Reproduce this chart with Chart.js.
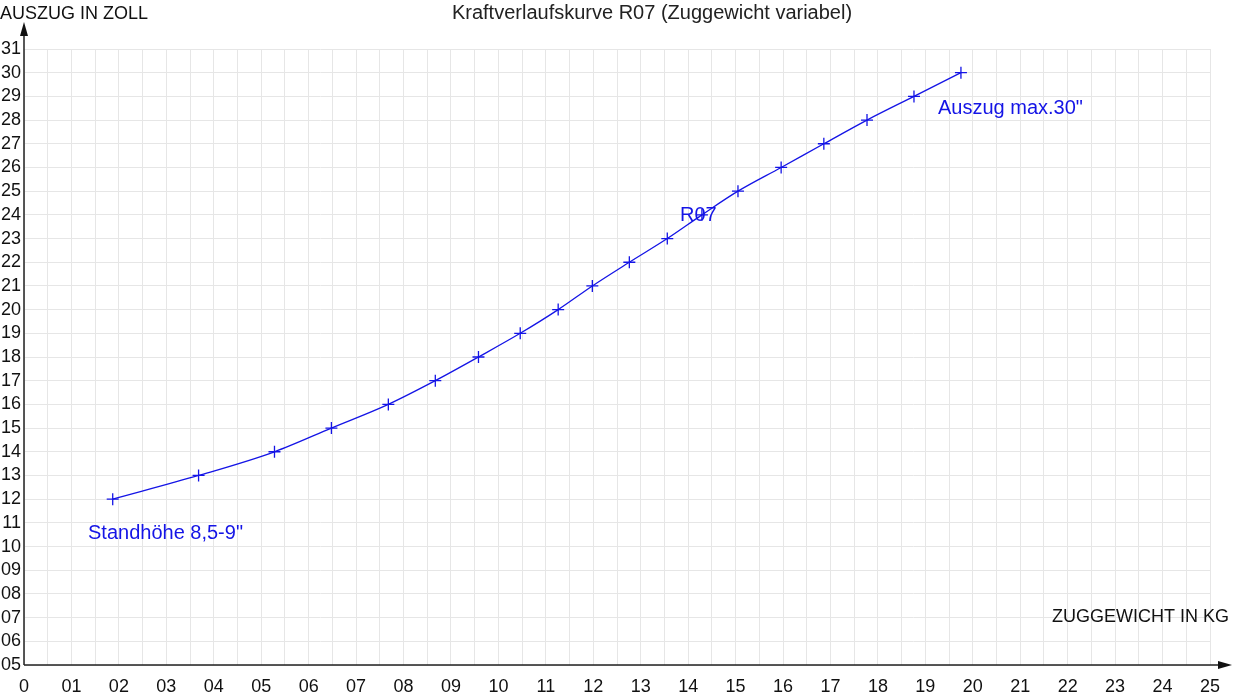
<!DOCTYPE html>
<html><head><meta charset="utf-8">
<script src="https://cdn.jsdelivr.net/npm/chart.js@4"></script>
<style>html,body{margin:0;padding:0;background:#fff}#w{width:1233px;height:700px}</style>
</head><body><div id="w"><canvas id="c"></canvas></div>
<script>
const zuggewicht = [1.87,3.68,5.28,6.48,7.68,8.67,9.58,10.46,11.26,11.98,12.76,13.56,14.29,15.05,15.96,16.86,17.77,18.76,19.75];
const auszug = [12,13,14,15,16,17,18,19,20,21,22,23,24,25,26,27,28,29,30];
const xTickLabels = ['0','01','02','03','04','05','06','07','08','09','10','11','12','13','14','15','16','17','18','19','20','21','22','23','24','25'];
const yTickLabels = {5:'05',6:'06',7:'07',8:'08',9:'09'};
const FONT = '"Liberation Sans", Arial, sans-serif';

const deco = {
  id:'deco',
  afterDraw(ch){
    const c=ch.ctx, a=ch.chartArea;
    c.save();
    c.strokeStyle='#222'; c.fillStyle='#111'; c.lineWidth=1.5;
    c.beginPath(); c.moveTo(a.left,a.bottom); c.lineTo(1222,a.bottom);
    c.moveTo(a.left,a.bottom); c.lineTo(a.left,30); c.stroke();
    c.beginPath(); c.moveTo(1232,a.bottom); c.lineTo(1218,a.bottom-4); c.lineTo(1218,a.bottom+4); c.fill();
    c.beginPath(); c.moveTo(a.left,22); c.lineTo(a.left-4,36); c.lineTo(a.left+4,36); c.fill();
    c.font='18px '+FONT; c.fillStyle='#111'; c.textBaseline='middle';
    c.textAlign='left'; c.fillText('AUSZUG IN ZOLL',0,14);
    c.textAlign='right'; c.fillText('ZUGGEWICHT IN KG',1229,617);
    c.textAlign='center'; c.font='20px '+FONT; c.fillStyle='#222';
    c.fillText('Kraftverlaufskurve R07 (Zuggewicht variabel)',652,13);
    c.fillStyle='#1414e6'; c.font='20px '+FONT; c.textAlign='left';
    c.fillText('Standhöhe 8,5-9"',88,533);
    c.fillText('R07',680,215);
    c.fillText('Auszug max.30"',938,108);
    c.restore();
  }
};

new Chart(document.getElementById('c'),{
  type:'scatter',
  data:{datasets:[{data:zuggewicht.map((v,i)=>({x:v,y:auszug[i]})),showLine:true,
    borderColor:'#1414e6',borderWidth:1.3,tension:0.3,cubicInterpolationMode:'monotone',
    pointStyle:'cross',pointRadius:6,pointBorderColor:'#1414e6',pointBorderWidth:1.3}]},
  options:{responsive:true,maintainAspectRatio:false,animation:false,
    layout:{padding:{top:49,right:23,left:0,bottom:0}},
    plugins:{legend:{display:false},tooltip:{enabled:false}},
    scales:{
      x:{type:'linear',min:0,max:25,afterFit(s){s.height=35;},
        grid:{color:'#e6e6e6',drawTicks:false},border:{display:false},
        ticks:{stepSize:0.5,autoSkip:false,maxRotation:0,padding:11,color:'#111',font:{size:18,family:FONT},
          callback:v=>Number.isInteger(v)?xTickLabels[v]:''}},
      y:{type:'linear',min:5,max:31,afterFit(s){s.width=24;},
        grid:{color:'#e6e6e6',drawTicks:false},border:{display:false},
        ticks:{stepSize:1,autoSkip:false,padding:3,color:'#111',font:{size:18,family:FONT},
          callback:v=>yTickLabels[v]||String(v)}}
    }},
  plugins:[deco]
});
</script></body></html>
